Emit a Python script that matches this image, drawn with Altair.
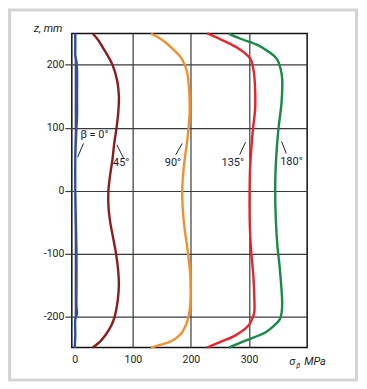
import altair as alt
import pandas as pd

# ---- data ----
series_names = ["0°", "45°", "90°", "135°", "180°"]
series_colors = ["#2f4fa6", "#8c1b1d", "#f3902c", "#e8232b", "#178a47"]

z_0 = [250, 230, 215, 205, 190, 150, 120, 100, 80, 50, 0, -50, -100, -150, -185, -195, -205, -230, -250]
s_0 = [1, 1, 1, 3, 4, 4, 4, 3, 2, 1, 1, 2, 3, 3, 3, 4, 1, 1, 0]

z_45 = [250, 240, 225, 200, 175, 150, 125, 100, 75, 50, 25, 0, -25, -50, -75, -100, -125, -150, -175, -200, -215, -230, -240, -250]
s_45 = [31, 40, 50, 65, 73, 76, 75, 72, 68, 65, 61, 58, 58, 61, 66, 71, 74.5, 76, 74, 69, 63, 53, 44, 31]

z_90 = [250, 240, 226, 210, 190, 170, 130, 100, 75, 40, 0, -30, -60, -100, -130, -160, -185, -200, -215, -228, -240, -245, -250]
s_90 = [131, 150, 168, 184, 193, 196, 198, 196, 193, 188, 185, 186, 189, 195, 198.5, 199.5, 198.5, 196, 191, 183, 166, 150, 131]

z_135 = [250, 242, 226, 210, 190, 170, 130, 100, 40, 0, -40, -72, -100, -140, -170, -194, -205, -215, -231, -242, -250]
s_135 = [228, 248, 282, 302, 308, 310, 310.5, 307, 302, 301, 301, 302, 304, 307.7, 309, 309, 305, 299, 276, 248, 228]

z_180 = [250, 247, 240, 231, 220, 210, 195, 178, 141, 93, 40, 0, -45, -90, -125, -178, -195, -205, -215, -226, -239, -245, -250]
s_180 = [265, 271, 290, 316, 335, 347.5, 354, 357, 356, 350, 346, 345, 346, 349, 353, 357, 356, 353, 343, 328, 293.5, 278, 265]

x_ticks = [0, 100, 200, 300]
y_ticks = [-200, -100, 0, 100, 200]

label_texts = ["β = 0°", "45°", "90°", "135°", "180°"]
label_x = [34, 80, 169, 272, 373]
label_z = [88, 43, 43, 43, 45]

leader_x1 = [5, 72.4, 185, 294, 356]
leader_z1 = [53, 73, 75, 77, 78]
leader_x2 = [15, 83.8, 174, 284, 364]
leader_z2 = [75, 52, 57, 57, 59]

# ---- build tables ----
rows = []
for name, zs, ss in zip(series_names, [z_0, z_45, z_90, z_135, z_180], [s_0, s_45, s_90, s_135, s_180]):
    for i, (z, s) in enumerate(zip(zs, ss)):
        rows.append({"series": name, "z": z, "s": s, "ord": i})
df = pd.DataFrame(rows)

labels = pd.DataFrame({"t": label_texts, "x": label_x, "z": label_z})
leaders = pd.DataFrame({"x1": leader_x1, "z1": leader_z1, "x2": leader_x2, "z2": leader_z2})

FONT = "Roboto"
xscale = alt.Scale(domain=[-5, 400], nice=False, zero=False)
yscale = alt.Scale(domain=[-250, 250], nice=False, zero=False)
minus_fix = "datum.value < 0 ? '-' + abs(datum.value) : '' + datum.value"

lines = alt.Chart(df).mark_line(strokeWidth=2.4, interpolate="catmull-rom").encode(
    x=alt.X("s:Q", scale=xscale,
            axis=alt.Axis(values=x_ticks, title=None, grid=True, gridColor="#3a3a3a", gridWidth=1.2,
                          ticks=False, domain=False, labelPadding=7, labelFont=FONT, labelFontSize=10.5,
                          labelColor="#222", labelExpr=minus_fix)),
    y=alt.Y("z:Q", scale=yscale,
            axis=alt.Axis(values=y_ticks, title="z, mm", titleAngle=0, titleX=-10, titleY=-5,
                          titleAlign="right", titleBaseline="middle", titleFont=FONT, titleFontSize=11,
                          titleFontStyle="italic", titleFontWeight="normal", titleColor="#222",
                          grid=True, gridColor="#3a3a3a", gridWidth=1.2, ticks=True, tickSize=7,
                          tickColor="#3a3a3a", tickWidth=1.2, domain=False, labelPadding=1,
                          labelFont=FONT, labelFontSize=10.5, labelColor="#222", labelExpr=minus_fix)),
    color=alt.Color("series:N", scale=alt.Scale(domain=series_names, range=series_colors), legend=None),
    order="ord:Q",
    detail="series:N",
)

text = alt.Chart(labels).mark_text(font=FONT, fontSize=11, color="#1a1a3a").encode(
    x=alt.X("x:Q", scale=xscale), y=alt.Y("z:Q", scale=yscale), text="t:N"
)

lead = alt.Chart(leaders).mark_rule(color="#222", strokeWidth=1).encode(
    x=alt.X("x1:Q", scale=xscale), y=alt.Y("z1:Q", scale=yscale),
    x2="x2:Q", y2="z2:Q"
)

one = pd.DataFrame({"a": [0]})
frame = alt.Chart(one).mark_rect(fillOpacity=0, stroke="#d4d4d4", strokeWidth=3).encode(
    x=alt.value(-62.5), x2=alt.value(285.5), y=alt.value(-23.5), y2=alt.value(347.5)
)

xt1 = alt.Chart(one).mark_text(text="σ", font=FONT, fontSize=11, fontStyle="italic", align="left",
                               baseline="middle", color="#222").encode(x=alt.value(218), y=alt.value(329))
xt2 = alt.Chart(one).mark_text(text="β", font=FONT, fontSize=7, fontStyle="italic", align="left",
                               baseline="middle", color="#222").encode(x=alt.value(225), y=alt.value(333))
xt3 = alt.Chart(one).mark_text(text="MPa", font=FONT, fontSize=11, fontStyle="italic", align="left",
                               baseline="middle", color="#222").encode(x=alt.value(233), y=alt.value(329))

chart = alt.layer(frame, lines, lead, text, xt1, xt2, xt3).properties(
    width=236, height=315,
    padding={"left": 64, "top": 25, "right": 52, "bottom": 36},
    autosize="none",
).configure(
    background="white",
    view=alt.ViewConfig(stroke="#111", strokeWidth=1.5),
)

chart.save("out.html", embed_options={"renderer": "svg", "actions": False})
